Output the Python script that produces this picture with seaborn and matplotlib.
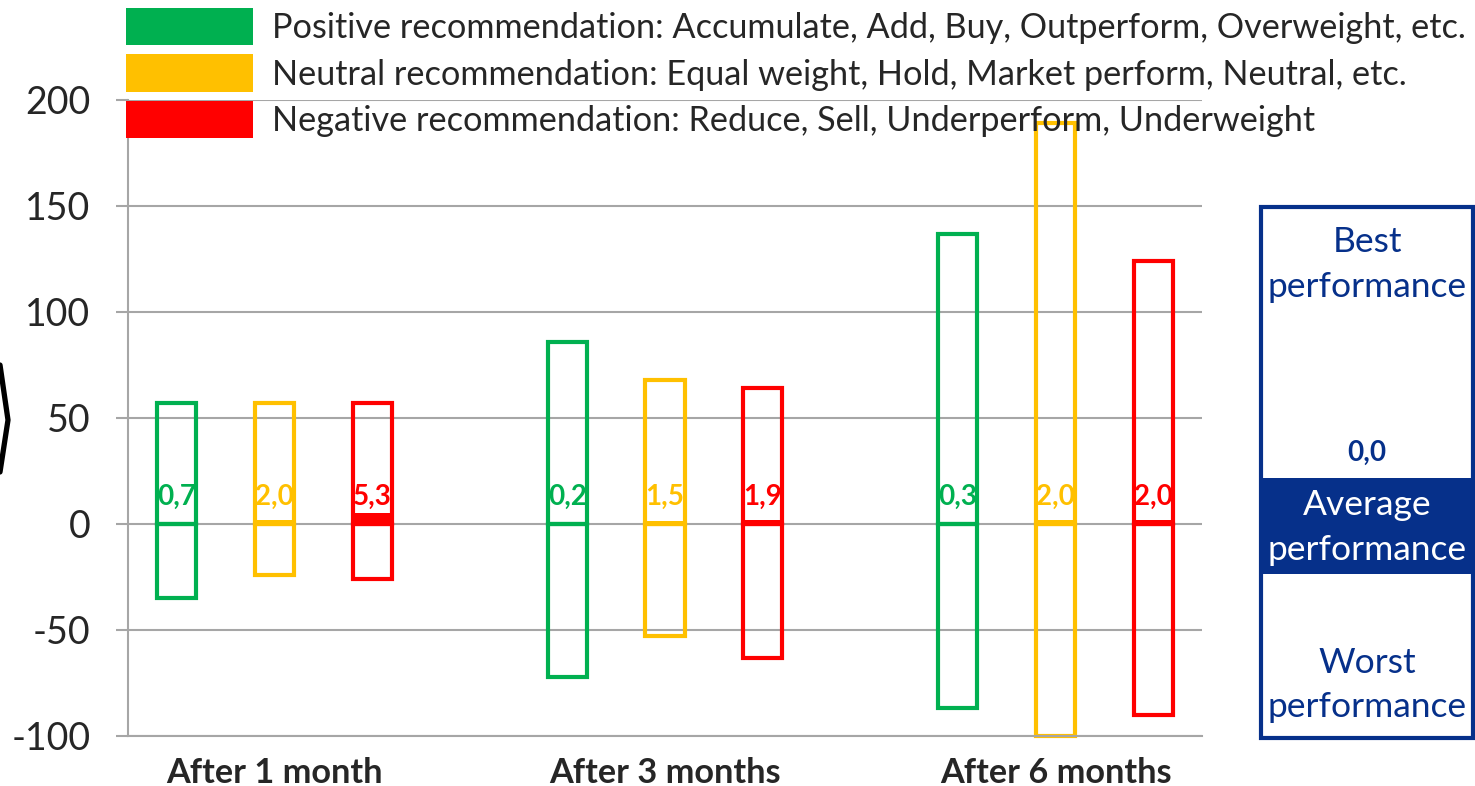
import pandas as pd
import matplotlib.pyplot as plt
import matplotlib.patches as mpatches
from matplotlib.lines import Line2D
import seaborn as sns

# Data
periods = ['After 1 month', 'After 3 months', 'After 6 months']
rec_labels = ['Positive recommendation: Accumulate, Add, Buy, Outperform, Overweight, etc.',
              'Neutral recommendation: Equal weight, Hold, Market perform, Neutral, etc.',
              'Negative recommendation: Reduce, Sell, Underperform, Underweight']
rec_colors = ['#00B050', '#FFC000', '#FF0000']

best_pos = [57, 86, 137]
best_neu = [57, 68, 189]
best_neg = [57, 64, 124]
worst_pos = [-35, -72, -87]
worst_neu = [-24, -53, -100]
worst_neg = [-26, -63, -90]
avg_pos = [0.7, 0.2, 0.3]
avg_neu = [2.0, 1.5, 2.0]
avg_neg = [5.3, 1.9, 2.0]

rows = []
for rec, best, worst, avg in zip(rec_labels,
                                 [best_pos, best_neu, best_neg],
                                 [worst_pos, worst_neu, worst_neg],
                                 [avg_pos, avg_neu, avg_neg]):
    for i, p in enumerate(periods):
        rows.append({'period': p, 'rec': rec, 'best': best[i], 'worst': worst[i], 'avg': avg[i]})
df = pd.DataFrame(rows)

sns.set_style('white')
plt.rcParams['font.family'] = ['Lato', 'DejaVu Sans']
plt.rcParams['axes.unicode_minus'] = False

navy = '#06308A'
grid_c = '#A6A6A6'

fig = plt.figure(figsize=(14.75, 7.86), dpi=100)
ax = fig.add_axes([128 / 1475, 50 / 786, 1074 / 1475, 636 / 786])

common = dict(x='period', hue='rec', hue_order=rec_labels, palette=rec_colors,
              order=periods, width=0.75, gap=0.6, saturation=1, errorbar=None, ax=ax)

# best and worst as open boxes, average as a filled band from zero
sns.barplot(data=df, y='best', fill=False, linewidth=3, legend=False, **common)
sns.barplot(data=df, y='worst', fill=False, linewidth=3, legend=False, **common)
sns.barplot(data=df, y='avg', linewidth=0, legend=True, **common)

for p in ax.patches:
    p.set_clip_on(False)

# value labels above the zero line
for cont, color in zip(ax.containers[-3:], rec_colors):
    for bar, val in zip(cont, cont.datavalues):
        ax.text(bar.get_x() + bar.get_width() / 2, 9, f'{val:.1f}'.replace('.', ','),
                ha='center', va='baseline', fontsize=20, fontweight='bold', color=color)

ax.set_ylim(-100, 200)
ax.set_xlim(-0.375, 2.375)
ax.set_yticks([-100, -50, 0, 50, 100, 150, 200])
ax.yaxis.grid(True, color=grid_c, linewidth=1.5)
ax.set_axisbelow(True)
for s in ['top', 'right']:
    ax.spines[s].set_visible(False)
for s in ['left', 'bottom']:
    ax.spines[s].set_color(grid_c)
    ax.spines[s].set_linewidth(1.5)
ax.tick_params(axis='y', left=True, length=9, width=1.5, color=grid_c, labelsize=27, pad=18)
ax.tick_params(axis='x', length=0, labelsize=24.7, pad=15)
for lbl in ax.get_xticklabels():
    lbl.set_fontweight('bold')
ax.set_xlabel('')
ax.set_ylabel('')

sns.move_legend(ax, 'upper left', bbox_to_anchor=(126 / 1475, 1 - 8 / 786),
                bbox_transform=fig.transFigure, frameon=False, title=None,
                fontsize=24.7, handlelength=3.7, handleheight=1.3, handletextpad=0.55,
                labelspacing=0.26, borderpad=0, borderaxespad=0)

# right-hand explanation box
bx = fig.add_axes([1261 / 1475, 48 / 786, 212 / 1475, 531 / 786])
bx.set_xlim(0, 1)
bx.set_ylim(0, 1)
bx.axis('off')
bx.add_patch(mpatches.Rectangle((0, 0), 1, 1, fill=False, edgecolor=navy, linewidth=3, clip_on=False))
bx.add_patch(mpatches.Rectangle((0, 0.309), 1, 0.181, facecolor=navy, edgecolor='none'))
box_text = [('Best', 0.934, navy, 'normal'), ('performance', 0.849, navy, 'normal'),
            ('0,0', 0.537, navy, 'bold'),
            ('Average', 0.439, 'white', 'normal'), ('performance', 0.354, 'white', 'normal'),
            ('Worst', 0.141, navy, 'normal'), ('performance', 0.058, navy, 'normal')]
for t, y, c, w in box_text:
    bx.text(0.5, y, t, ha='center', va='center', color=c, fontweight=w,
            fontsize=20 if w == 'bold' else 25.5)

# chevron on the left edge
fig.add_artist(Line2D([0 / 1475, 8 / 1475, 0 / 1475], [1 - 365 / 786, 1 - 420 / 786, 1 - 472 / 786],
                      color='black', linewidth=3.8, transform=fig.transFigure))

fig.savefig('out.png', dpi=100)
